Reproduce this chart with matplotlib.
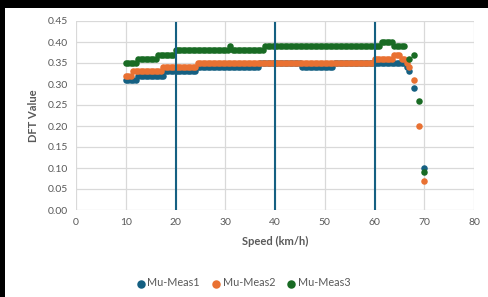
import numpy as np
import matplotlib
matplotlib.use("Agg")
import matplotlib.pyplot as plt
from matplotlib.patches import Rectangle

plt.rcParams['font.family'] = ['Lato', 'DejaVu Sans']

# Flat part of the speed sweep (km/h), 0.5 km/h steps
speed_flat = np.arange(10.0, 66.01, 0.5)

# Run-length encoded levels
meas1_levels = [0.31, 0.32, 0.33, 0.34, 0.35, 0.34, 0.35]
meas1_counts = [5, 11, 13, 25, 17, 13, 29]
meas1_tail_speed = [66.5, 67.0, 68.0, 70.0]
meas1_tail_val = [0.34, 0.33, 0.29, 0.10]

meas2_levels = [0.32, 0.33, 0.34, 0.35, 0.36, 0.37, 0.36]
meas2_counts = [3, 12, 14, 71, 8, 3, 2]
meas2_tail_speed = [66.5, 67.0, 68.0, 69.0, 70.0]
meas2_tail_val = [0.35, 0.34, 0.31, 0.20, 0.07]

meas3_levels = [0.35, 0.36, 0.37, 0.38, 0.39, 0.38, 0.39, 0.40, 0.39]
meas3_counts = [5, 8, 7, 22, 1, 13, 47, 5, 5]
meas3_tail_speed = [67.0, 68.0, 69.0, 70.0]
meas3_tail_val = [0.36, 0.37, 0.26, 0.09]

vlines_x = [20, 40, 60]
x_ticks = [0, 10, 20, 30, 40, 50, 60, 70, 80]
y_ticks = [0.00, 0.05, 0.10, 0.15, 0.20, 0.25, 0.30, 0.35, 0.40, 0.45]

series = [
    ("Mu-Meas1", meas1_levels, meas1_counts, meas1_tail_speed, meas1_tail_val, "#156082"),
    ("Mu-Meas2", meas2_levels, meas2_counts, meas2_tail_speed, meas2_tail_val, "#E97132"),
    ("Mu-Meas3", meas3_levels, meas3_counts, meas3_tail_speed, meas3_tail_val, "#196B24"),
]

fig = plt.figure(figsize=(4.88, 2.97), dpi=100)
fig.patch.set_facecolor("white")
# black frame at top and left edges
fig.patches.append(Rectangle((0, 1 - 8/297), 1, 8/297, transform=fig.transFigure,
                             facecolor="black", edgecolor="none", zorder=-1))
fig.patches.append(Rectangle((0, 0), 5/488, 1, transform=fig.transFigure,
                             facecolor="black", edgecolor="none", zorder=-1))

ax = fig.add_axes([76/488, 1 - 210/297, (474-76)/488, (210-21)/297])
ax.set_facecolor("white")

for name, lv, ct, ts, tv, col in series:
    xs = np.concatenate([speed_flat, ts])
    ys = np.concatenate([np.repeat(lv, ct), tv])
    ax.scatter(xs, ys, s=22, color=col, label=name, zorder=3, linewidths=0)

for xv in vlines_x:
    ax.plot([xv, xv], [0, 0.445], color="#156082", lw=1.5, zorder=4)

ax.set_xlim(0, 80)
ax.set_ylim(0, 0.45)
ax.set_xticks(x_ticks)
ax.set_yticks(y_ticks)
ax.set_yticklabels([f"{v:.2f}" for v in y_ticks])
ax.grid(True, color="#D9D9D9", lw=0.9, zorder=0)
ax.set_axisbelow(True)
for s in ax.spines.values():
    s.set_visible(False)
ax.tick_params(length=0, labelsize=7.5, colors="#595959", pad=6)

ax.set_xlabel("Speed (km/h)", fontsize=8, fontweight="bold", color="#595959", labelpad=6)
ax.set_ylabel("DFT Value", fontsize=8, fontweight="bold", color="#595959", labelpad=6)

leg = fig.legend(loc="center", bbox_to_anchor=(0.5, 1 - 283/297), ncol=3, frameon=False,
                 fontsize=7.8, handlelength=0.6, handletextpad=0.3, columnspacing=1.2,
                 markerscale=1.3, scatterpoints=1)
for t in leg.get_texts():
    t.set_color("#595959")

fig.savefig("out.png", dpi=100, facecolor=fig.get_facecolor())
